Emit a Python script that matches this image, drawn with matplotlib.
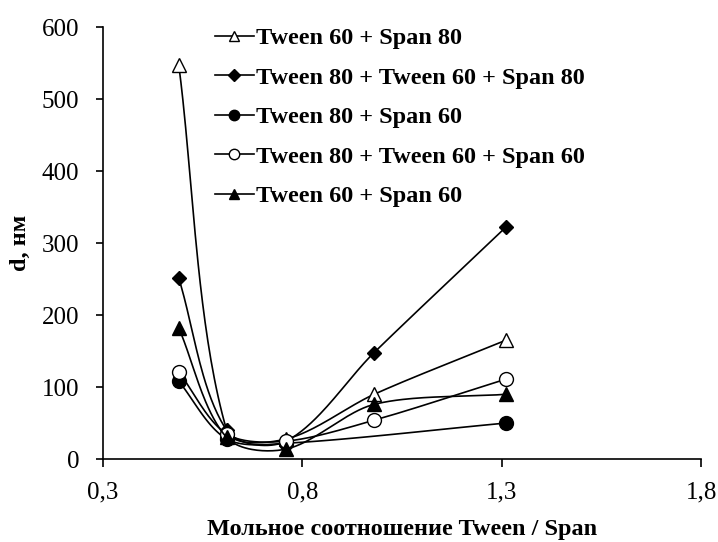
import matplotlib
matplotlib.use("Agg")
import matplotlib.pyplot as plt
import numpy as np

plt.rcParams['font.family'] = ['Liberation Serif', 'DejaVu Serif']

# данные
x5 = [0.49, 0.61, 0.76, 0.98, 1.31]
x4 = [0.49, 0.61, 0.76, 1.31]
t60_s80 = [547, 40, 28, 90, 165]
t80_t60_s80 = [251, 40, 25, 148, 322]
t80_s60 = [108, 28, 22, 50]
t80_t60_s60 = [121, 35, 25, 54, 111]
t60_s60 = [182, 30, 14, 76, 90]

names = ['Tween 60 + Span 80', 'Tween 80 + Tween 60 + Span 80', 'Tween 80 + Span 60',
         'Tween 80 + Tween 60 + Span 60', 'Tween 60 + Span 60']
xticks = [0.3, 0.8, 1.3, 1.8]
xticklabels = ['0,3', '0,8', '1,3', '1,8']


def smooth(x, y, sx=400.0, sy=0.72, f=0.3, n=40):
    # сглаженная линия (примерно как в Excel), считаем в пикселях
    p = np.column_stack([np.asarray(x, float) * sx, np.asarray(y, float) * sy])
    m = len(p)
    tang = []
    for i in range(m):
        a = p[max(i - 1, 0)]
        b = p[min(i + 1, m - 1)]
        d = b - a
        tang.append(d / np.hypot(*d))
    t = np.linspace(0, 1, n)[:, None]
    out = []
    for i in range(m - 1):
        L = np.hypot(*(p[i + 1] - p[i]))
        c1 = p[i] + tang[i] * L * f
        c2 = p[i + 1] - tang[i + 1] * L * f
        b = (1 - t) ** 3 * p[i] + 3 * (1 - t) ** 2 * t * c1 + 3 * (1 - t) * t ** 2 * c2 + t ** 3 * p[i + 1]
        out.append(b)
    out = np.vstack(out)
    return out[:, 0] / sx, out[:, 1] / sy


fig = plt.figure(figsize=(7.18, 5.42), dpi=100)
ax = fig.add_axes([0.1435, 0.153, 0.833, 0.797])

series = [
    (x5, t60_s80, '^', 'white', 10),
    (x5, t80_t60_s80, 'D', 'black', 7.5),
    (x4, t80_s60, 'o', 'black', 10),
    (x5, t80_t60_s60, 'o', 'white', 10),
    (x5, t60_s60, '^', 'black', 10),
]

for (xx, yy, m, fc, ms), nm in zip(series, names):
    sx, sy = smooth(xx, yy)
    ax.plot(sx, sy, color='black', lw=1.2)
    ax.plot(xx, yy, ls='none', marker=m, mfc=fc, mec='black', ms=ms, mew=1.0)
    ax.plot([], [], color='black', lw=1.2, marker=m, mfc=fc, mec='black', ms=ms * 0.75,
            mew=1.0, label=nm)

ax.set_xlim(0.3, 1.8)
ax.set_ylim(0, 600)
ax.set_xticks(xticks)
ax.set_xticklabels(xticklabels)
ax.set_yticks(range(0, 601, 100))
ax.spines['top'].set_visible(False)
ax.spines['right'].set_visible(False)
ax.spines['left'].set_linewidth(1.2)
ax.spines['bottom'].set_linewidth(1.2)
ax.tick_params(direction='out', width=1.2, labelsize=18)
ax.tick_params(axis='x', length=6, pad=10)
ax.tick_params(axis='y', length=5, pad=12)
ax.set_xlabel('Мольное соотношение Tween / Span', fontsize=17.5, fontweight='bold', labelpad=11)
ax.set_ylabel('d, нм', fontsize=17.5, fontweight='bold', labelpad=8)

ax.legend(loc='upper left', bbox_to_anchor=(0.15, 1.05), frameon=False,
          prop={'size': 17.5, 'weight': 'bold'}, handlelength=1.6, handletextpad=0.1,
          labelspacing=0.72)

fig.savefig('out.png', dpi=100)
